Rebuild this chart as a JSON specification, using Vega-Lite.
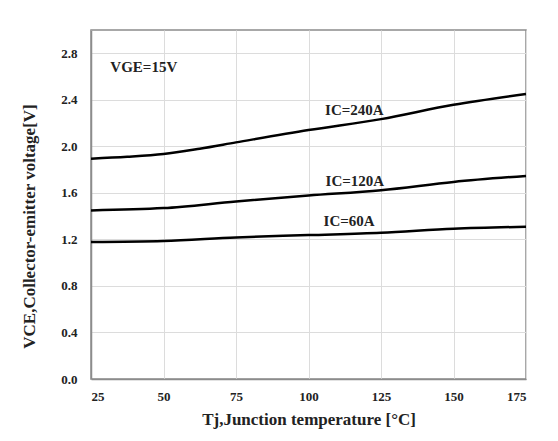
{
  "$schema": "https://vega.github.io/schema/vega-lite/v6.json",
  "width": 435,
  "height": 349,
  "autosize": "none",
  "padding": {"left": 91, "top": 30, "right": 32, "bottom": 62},
  "background": "white",
  "config": {
    "font": "Liberation Serif",
    "view": {"stroke": "#8c8c8c", "strokeWidth": 1.5},
    "axis": {
      "labelFont": "Liberation Serif",
      "labelFontWeight": "bold",
      "labelFontSize": 13,
      "labelColor": "#222",
      "titleFont": "Liberation Serif",
      "titleFontWeight": "bold",
      "titleFontSize": 17,
      "titleColor": "#222",
      "gridColor": "#dcdcdc",
      "gridWidth": 1,
      "ticks": false,
      "domainColor": "#8c8c8c",
      "domainWidth": 1.5
    }
  },
  "data": {
    "values": [
      {"tj": 25, "v": 1.894, "ic": "IC=240A"},
      {"tj": 37.5, "v": 1.91, "ic": "IC=240A"},
      {"tj": 50, "v": 1.934, "ic": "IC=240A"},
      {"tj": 62.5, "v": 1.98, "ic": "IC=240A"},
      {"tj": 75, "v": 2.034, "ic": "IC=240A"},
      {"tj": 100, "v": 2.14, "ic": "IC=240A"},
      {"tj": 125, "v": 2.234, "ic": "IC=240A"},
      {"tj": 150, "v": 2.357, "ic": "IC=240A"},
      {"tj": 175, "v": 2.45, "ic": "IC=240A"},
      {"tj": 25, "v": 1.449, "ic": "IC=120A"},
      {"tj": 50, "v": 1.469, "ic": "IC=120A"},
      {"tj": 75, "v": 1.526, "ic": "IC=120A"},
      {"tj": 100, "v": 1.577, "ic": "IC=120A"},
      {"tj": 125, "v": 1.623, "ic": "IC=120A"},
      {"tj": 150, "v": 1.694, "ic": "IC=120A"},
      {"tj": 175, "v": 1.746, "ic": "IC=120A"},
      {"tj": 25, "v": 1.177, "ic": "IC=60A"},
      {"tj": 50, "v": 1.186, "ic": "IC=60A"},
      {"tj": 75, "v": 1.217, "ic": "IC=60A"},
      {"tj": 100, "v": 1.237, "ic": "IC=60A"},
      {"tj": 125, "v": 1.257, "ic": "IC=60A"},
      {"tj": 150, "v": 1.291, "ic": "IC=60A"},
      {"tj": 175, "v": 1.309, "ic": "IC=60A"}
    ]
  },
  "layer": [
    {
      "mark": {"type": "line", "interpolate": "monotone", "color": "black", "strokeWidth": 2.5},
      "encoding": {
        "x": {
          "field": "tj", "type": "quantitative",
          "scale": {"domain": [25, 175], "nice": false},
          "axis": {"values": [25, 50, 75, 100, 125, 150, 175], "labelPadding": 11, "title": "Tj,Junction temperature [°C]", "titlePadding": 8}
        },
        "y": {
          "field": "v", "type": "quantitative",
          "scale": {"domain": [0, 3.0], "nice": false},
          "axis": {"values": [0, 0.4, 0.8, 1.2, 1.6, 2.0, 2.4, 2.8], "format": ".1f", "labelPadding": 14, "title": "VCE,Collector-emitter voltage[V]", "titlePadding": 22, "titleY": 196}
        },
        "detail": {"field": "ic"}
      }
    },
    {
      "data": {
        "values": [
          {"tj": 115.8, "v": 2.314, "label": "IC=240A"},
          {"tj": 116, "v": 1.706, "label": "IC=120A"},
          {"tj": 114, "v": 1.357, "label": "IC=60A"},
          {"tj": 43.2, "v": 2.686, "label": "VGE=15V"}
        ]
      },
      "mark": {"type": "text", "font": "Liberation Serif", "fontWeight": "bold", "fontSize": 15, "color": "#222"},
      "encoding": {
        "x": {"field": "tj", "type": "quantitative"},
        "y": {"field": "v", "type": "quantitative"},
        "text": {"field": "label"}
      }
    }
  ]
}
